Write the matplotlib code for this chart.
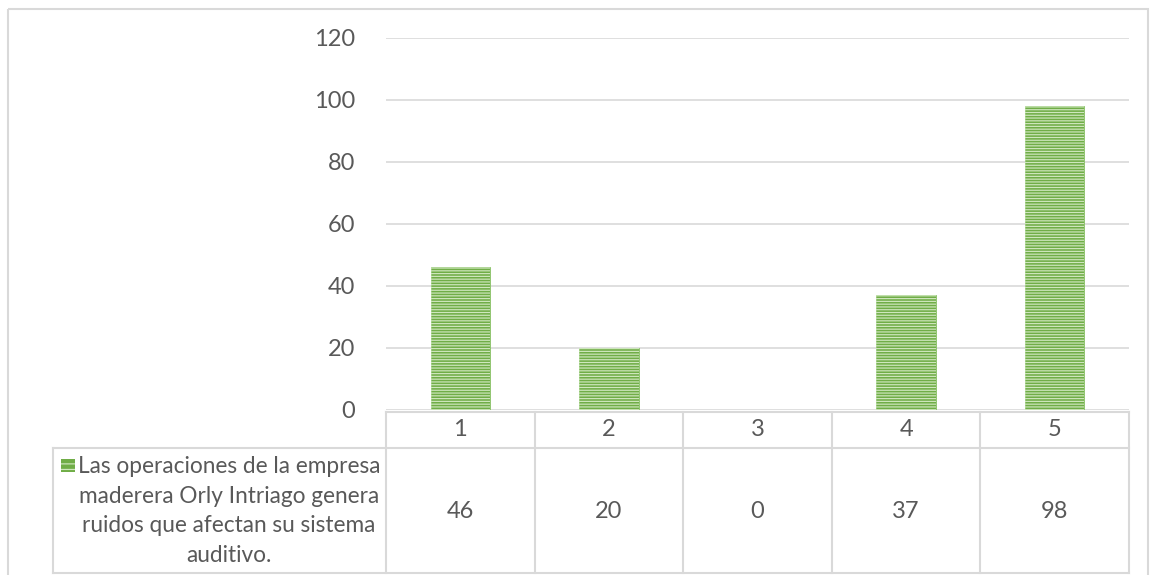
import matplotlib.pyplot as plt
from matplotlib.patches import Rectangle

# data
categories = ['1', '2', '3', '4', '5']
values = [46, 20, 0, 37, 98]
series_label = ('Las operaciones de la empresa\nmaderera Orly Intriago genera\n'
                'ruidos que afectan su sistema\nauditivo.')
yticks = [0, 20, 40, 60, 80, 100, 120]

W, H = 1150, 575
green = '#70AD47'
stripe = '#CFE7BE'
grid = '#D9D9D9'
txt = '#595959'

plt.rcParams['font.family'] = ['Lato', 'DejaVu Sans']
plt.rcParams['hatch.linewidth'] = 0.85
plt.rcParams['hatch.color'] = stripe

fig = plt.figure(figsize=(W / 100, H / 100), dpi=100)

# background layer in pixel coordinates, for the frame and the data table
bg = fig.add_axes([0, 0, 1, 1])
bg.set_xlim(0, W)
bg.set_ylim(H, 0)
bg.axis('off')

# plot area (pixels)
px0, px1, py0, py1 = 386, 1129, 410, 38
ax = fig.add_axes([px0 / W, 1 - py0 / H, (px1 - px0) / W, (py0 - py1) / H])

x = range(len(categories))
ax.bar(x, values, width=0.4, color=green, edgecolor='#8CC46A', linewidth=0.6, zorder=2)
ax.bar(x, values, width=0.4, color='none', edgecolor=stripe, hatch='------',
       linewidth=0, zorder=3)

ax.set_xlim(-0.5, len(categories) - 0.5)
ax.set_ylim(0, 120)
ax.set_yticks(yticks)
ax.set_xticks([])
ax.grid(axis='y', color=grid, linewidth=1.2, zorder=0)
for s in ax.spines.values():
    s.set_visible(False)
ax.tick_params(axis='y', length=0, pad=22, labelsize=17, labelcolor=txt)
ax.patch.set_alpha(0)

# outer chart frame
bg.add_patch(Rectangle((8, 9), 1140, 600, fill=False, edgecolor=grid, linewidth=1.5))

# data table below the plot
row0, row1, row2 = 412, 448, 573
tleft = 53
ncol = len(categories)
colw = (px1 - px0) / ncol
lc = dict(color=grid, linewidth=1.5)
bg.plot([px0, px1], [row0, row0], **lc)
bg.plot([tleft, px1], [row1, row1], **lc)
bg.plot([tleft, px1], [row2, row2], **lc)
bg.plot([tleft, tleft], [row1, row2], **lc)
for i in range(ncol + 1):
    xx = px0 + i * colw
    bg.plot([xx, xx], [row0, row2], **lc)
for i, (c, v) in enumerate(zip(categories, values)):
    cx = px0 + (i + 0.5) * colw
    bg.text(cx, (row0 + row1) / 2, c, ha='center', va='center', fontsize=17, color=txt)
    bg.text(cx, 511, str(v), ha='center', va='center', fontsize=17, color=txt)

# legend key and series name in the row header
bg.add_patch(Rectangle((61, 459), 14, 13, facecolor=green, edgecolor=stripe,
                       hatch='---', linewidth=0))
bg.text(229, 511, series_label, ha='center', va='center', multialignment='center',
        fontsize=16.3, color=txt, linespacing=1.5)

fig.savefig('out.png', dpi=100)
